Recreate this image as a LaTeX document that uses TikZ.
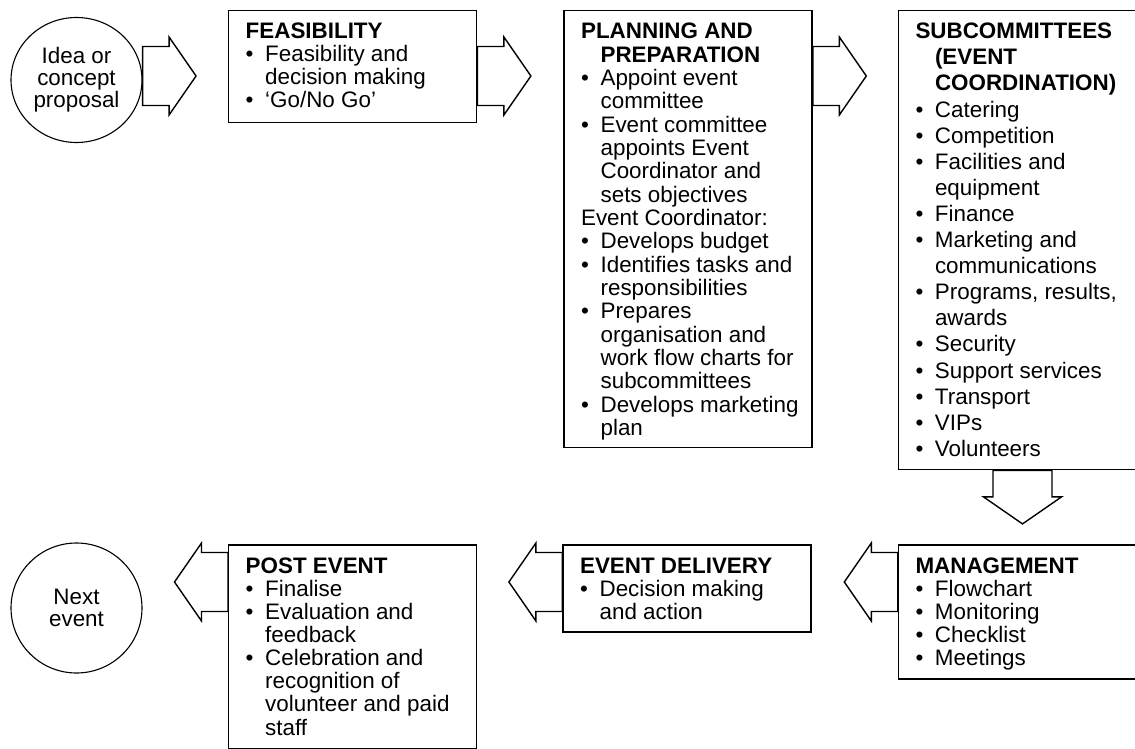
\documentclass[tikz,border=0pt]{standalone}
\usepackage{fontspec}
\setmainfont{Liberation Sans}
\usepackage{array}
\usetikzlibrary{positioning, shapes.geometric}

% text of a stage box: width, height, line skip, tabular rows
\newcommand{\stagetext}[4]{%
  \vbox to #2{%
    \fontsize{22.4pt}{#3}\selectfont
    \vskip\dimexpr 28pt-0.7\baselineskip\relax
    \hbox to #1{\hskip 17pt\begin{tabular}[t]{@{}p{19.5pt}@{}l@{}}#4\end{tabular}\hfil}%
    \vfil}}
\newcommand{\stagehead}[1]{\multicolumn{2}{@{}l@{}}{\bfseries #1}}

% fat outline arrow: start point, direction
\newcommand{\blockarrow}[2]{%
  \draw[arrowline, shift={(#1)}, rotate=#2]
    (0,-29.5) -- (26.5,-29.5) -- (26.5,-39) -- (53.5,0) -- (26.5,39) -- (26.5,29.5) -- (0,29.5) -- cycle;}

\begin{document}
\begin{tikzpicture}[x=1pt, y=-1pt,
    stagebox/.style={draw, line width=1.4pt, inner sep=0pt},
    endpoint/.style={draw, ellipse, line width=1.1pt, inner sep=0pt, align=center,
                     font=\fontsize{22.4pt}{22pt}\selectfont},
    arrowline/.style={draw, line width=1.4pt, line join=miter}]
  \useasboundingbox (0,0) rectangle (1135,749);
  \clip (0,0) rectangle (1135,749);

  % top row, left to right
  \node[endpoint, minimum width=131pt, minimum height=125pt] (idea) at (76.5,80) {Idea or\\concept\\proposal};
  \node[stagebox, anchor=north west] (feas) at (228,10) {\stagetext{248pt}{112pt}{22.7pt}{%
      \stagehead{FEASIBILITY}\\
      • & Feasibility and\\
        & decision making\\
      • & ‘Go/No Go’}};
  \node[stagebox, right=86pt of feas.north east, anchor=north west] (plan) {\stagetext{248pt}{437pt}{23.35pt}{%
      \stagehead{PLANNING AND}\\
        & \bfseries PREPARATION\\
      • & Appoint event\\
        & committee\\
      • & Event committee\\
        & appoints Event\\
        & Coordinator and\\
        & sets objectives\\
      \multicolumn{2}{@{}l@{}}{Event Coordinator:}\\
      • & Develops budget\\
      • & Identifies tasks and\\
        & responsibilities\\
      • & Prepares\\
        & organisation and\\
        & work flow charts for\\
        & subcommittees\\
      • & Develops marketing\\
        & plan}};
  \node[stagebox, right=85pt of plan.north east, anchor=north west] (sub) {\stagetext{248pt}{459pt}{26.1pt}{%
      \stagehead{SUBCOMMITTEES}\\
        & \bfseries (EVENT\\
        & \bfseries COORDINATION)\\
      • & Catering\\
      • & Competition\\
      • & Facilities and\\
        & equipment\\
      • & Finance\\
      • & Marketing and\\
        & communications\\
      • & Programs, results,\\
        & awards\\
      • & Security\\
      • & Support services\\
      • & Transport\\
      • & VIPs\\
      • & Volunteers}};

  % bottom row, right to left
  \node[stagebox, below=74pt of sub.south west, anchor=north west] (mgmt) {\stagetext{248pt}{134pt}{22.75pt}{%
      \stagehead{MANAGEMENT}\\
      • & Flowchart\\
      • & Monitoring\\
      • & Checklist\\
      • & Meetings}};
  \node[stagebox, left=86pt of mgmt.north west, anchor=north east] (deliv) {\stagetext{248pt}{87pt}{22.7pt}{%
      \stagehead{EVENT DELIVERY}\\
      • & Decision making\\
        & and action}};
  \node[stagebox, left=85pt of deliv.north west, anchor=north east] (post) {\stagetext{248pt}{204pt}{23pt}{%
      \stagehead{POST EVENT}\\
      • & Finalise\\
      • & Evaluation and\\
        & feedback\\
      • & Celebration and\\
        & recognition of\\
        & volunteer and paid\\
        & staff}};
  \node[endpoint, minimum width=131pt, minimum height=130pt] (next) at (76.5,608) {Next\\event};

  % arrows between the stages
  \blockarrow{idea.east |- 0,76}{0}
  \blockarrow{feas.east |- 0,76}{0}
  \blockarrow{plan.east |- 0,76}{0}
  \blockarrow{sub.south}{-90}
  \blockarrow{mgmt.west |- 0,582}{180}
  \blockarrow{deliv.west |- 0,582}{180}
  \blockarrow{post.west |- 0,582}{180}
\end{tikzpicture}
\end{document}
